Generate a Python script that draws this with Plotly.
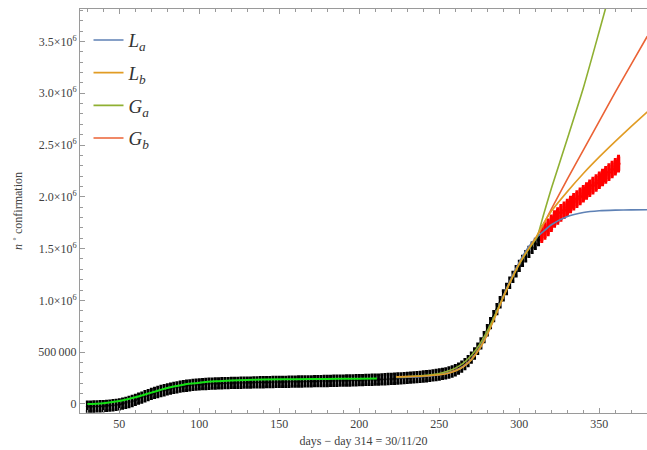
import plotly.graph_objects as go

# ---------------- data ----------------
# observed cumulative confirmations (black), every 2 days from day 30 to 312
obs_days = list(range(30, 313, 2))
obs_vals_k = [
    -25, -25, -24, -23, -22, -20, -18, -15, -12, -8,
    -3, 3, 10, 19, 29, 40, 51, 62, 75, 86,
    97, 107, 116, 125, 133, 141, 148, 155, 161, 167,
    172, 176, 180, 184, 187, 189, 191, 193, 195, 197,
    198, 199, 200, 201, 202, 203, 204, 204, 205, 206,
    207, 207, 208, 209, 210, 210, 211, 211, 212, 213,
    213, 214, 214, 215, 216, 216, 217, 217, 218, 219,
    219, 220, 220, 221, 222, 222, 223, 224, 224, 225,
    226, 227, 227, 228, 229, 230, 231, 232, 233, 234,
    235, 236, 238, 239, 241, 242, 244, 246, 248, 250,
    252, 254, 257, 259, 262, 265, 268, 272, 276, 280,
    285, 290, 296, 304, 314, 326, 341, 360, 384, 413,
    447, 487, 533, 585, 645, 712, 780, 848, 915, 982,
    1048, 1110, 1170, 1227, 1281, 1333, 1381, 1426, 1468, 1508,
    1546, 1582,
]

# later observations (red), every 2 days from day 314 to 362
new_days = list(range(314, 363, 2))
new_vals_k = [
    1640, 1670, 1705, 1745, 1785, 1815, 1845, 1870, 1897, 1925,
    1952, 1978, 2004, 2030, 2056, 2082, 2108, 2134, 2160, 2186,
    2212, 2238, 2264, 2290, 2320,
]

# first-wave fit (bright green)
wave1_days = [30, 40, 50, 55, 60, 65, 70, 75, 80, 85, 90, 95, 100, 110, 120, 130, 140, 160, 180, 200, 211]
wave1_vals_k = [0, 8, 29, 45, 65, 87, 110, 132, 155, 172, 186, 197, 206, 219, 227, 232, 236, 240, 242, 244, 245]

# second-wave fits
fit_days = [223, 230, 240, 250, 255, 260, 265, 270, 275, 280, 285, 290, 295, 300, 305, 310,
            315, 320, 330, 340, 350, 360, 370, 380]
La_k = [255, 258, 266, 283, 298, 322, 362, 430, 535, 680, 855, 1040, 1215, 1370, 1500, 1595,
        1665, 1730, 1810, 1848, 1865, 1871, 1874, 1875]
Lb_k = [262, 264, 270, 282, 295, 318, 358, 425, 528, 670, 845, 1030, 1200, 1355, 1480, 1595,
        1740, 1860, 2050, 2225, 2385, 2535, 2680, 2820]
Ga_days = [223, 230, 240, 250, 255, 260, 265, 270, 275, 280, 285, 290, 295, 300, 305, 311,
           315, 320, 330, 340, 350, 355]
Ga_k = [262, 265, 275, 295, 315, 346, 395, 468, 570, 705, 865, 1035, 1200, 1350, 1475, 1610,
        1820, 2080, 2560, 3050, 3600, 3880]
Gb_k = [260, 263, 270, 285, 300, 325, 366, 434, 538, 682, 857, 1040, 1210, 1362, 1490, 1595,
        1730, 1880, 2170, 2450, 2730, 3010, 3280, 3550]

obs_err_k = 46   # half-height of black error bars (thousands)
new_err_k = 68   # half-height of red error bars (thousands)

y_tick_vals = [0, 500000, 1000000, 1500000, 2000000, 2500000, 3000000, 3500000]
y_tick_text = ["0", "500\u2009000", "1.0×10<sup>6</sup>", "1.5×10<sup>6</sup>",
               "2.0×10<sup>6</sup>", "2.5×10<sup>6</sup>", "3.0×10<sup>6</sup>",
               "3.5×10<sup>6</sup>"]
x_tick_vals = [50, 100, 150, 200, 250, 300, 350]

K = 1000
def scale(v):
    return [a * K for a in v]

FONT = "Liberation Serif"
AX = "#9a9a9a"
TXT = "#404040"

fig = go.Figure()

fig.add_trace(go.Scatter(
    x=obs_days, y=scale(obs_vals_k), mode="markers",
    marker=dict(color="black", size=3),
    error_y=dict(type="constant", value=obs_err_k * K, color="black", thickness=2.8, width=1.5),
    showlegend=False, hoverinfo="skip"))

fig.add_trace(go.Scatter(
    x=new_days, y=scale(new_vals_k), mode="markers",
    marker=dict(color="red", size=4),
    error_y=dict(type="constant", value=new_err_k * K, color="red", thickness=3.5, width=1.5),
    showlegend=False, hoverinfo="skip"))

fig.add_trace(go.Scatter(
    x=wave1_days, y=scale(wave1_vals_k), mode="lines",
    line=dict(color="rgb(20,225,20)", width=2, shape="spline"),
    showlegend=False, hoverinfo="skip"))

fits = [
    ("<i>G<sub>b</sub></i>", fit_days, Gb_k, "#EB6235", 4),
    ("<i>L<sub>a</sub></i>", fit_days, La_k, "#5E81B5", 1),
    ("<i>G<sub>a</sub></i>", Ga_days, Ga_k, "#8FB032", 3),
    ("<i>L<sub>b</sub></i>", fit_days, Lb_k, "#E19C24", 2),
]
for name, xd, yd, col, rank in fits:
    fig.add_trace(go.Scatter(
        x=xd, y=scale(yd), mode="lines", name=name,
        line=dict(color=col, width=1.6, shape="spline", smoothing=0.6),
        legendrank=rank, legendgroup=name))

fig.update_layout(
    width=647, height=450,
    margin=dict(l=80, r=0, t=9, b=37, autoexpand=False),
    plot_bgcolor="white", paper_bgcolor="white",
    font=dict(family=FONT, size=12, color=TXT),
    legend=dict(
        x=0.015, y=0.97, xanchor="left", yanchor="top",
        font=dict(family=FONT, size=19, color="#333"),
        bgcolor="rgba(0,0,0,0)", tracegroupgap=5, itemwidth=30,
    ),
)

fig.update_xaxes(
    range=[25.4, 379.8], showgrid=False, zeroline=False, automargin=False,
    showline=True, linecolor=AX, linewidth=1, mirror="ticks",
    ticks="inside", ticklen=5, tickcolor=AX,
    tickvals=x_tick_vals,
    minor=dict(ticks="inside", ticklen=3, dtick=10, tick0=0, tickcolor=AX, showgrid=False),
    tickfont=dict(family=FONT, size=12, color=TXT),
    title=dict(text="days − day 314 = 30/11/20", font=dict(family=FONT, size=12, color=TXT), standoff=6),
)
fig.update_yaxes(
    range=[-87000, 3813000], showgrid=False, zeroline=False, automargin=False,
    showline=True, linecolor=AX, linewidth=1,
    ticks="inside", ticklen=5, tickcolor=AX,
    tickvals=y_tick_vals, ticktext=y_tick_text,
    minor=dict(ticks="inside", ticklen=3, dtick=100000, tick0=0, tickcolor=AX, showgrid=False),
    tickfont=dict(family=FONT, size=12, color=TXT),
    title=dict(text="<i>n</i> ˚ confirmation", font=dict(family=FONT, size=12, color=TXT), standoff=12),
)

# remove the page's default body margin so the 647x450 figure fills the window exactly
fig.write_html("out.html",
               config={"displayModeBar": False},
               post_script="document.body.style.margin='0';document.body.style.overflow='hidden';")
